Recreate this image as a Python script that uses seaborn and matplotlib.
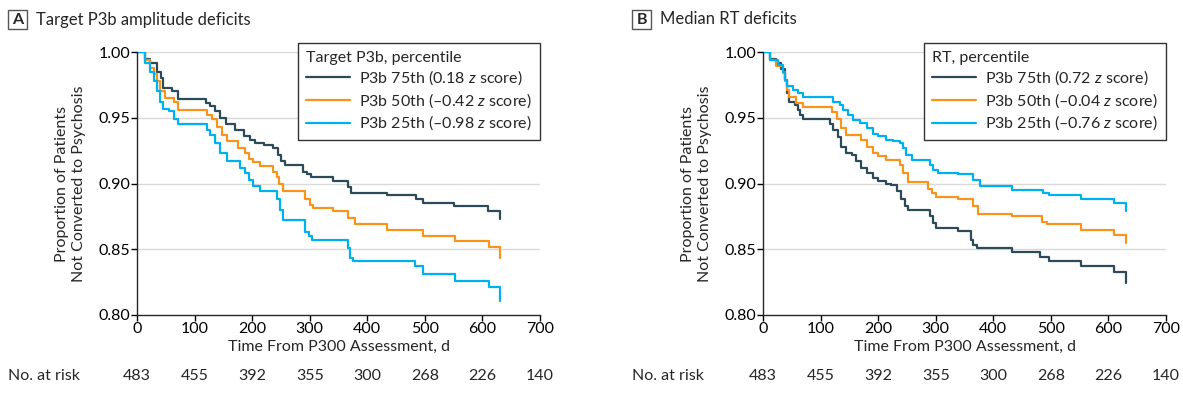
import pandas as pd
import seaborn as sns
import matplotlib.pyplot as plt
from matplotlib.patches import Rectangle
from matplotlib.transforms import blended_transform_factory

# ----------------------------- DATA --------------------------------------------------------------------

# Panel A: target P3b amplitude (step points: day, proportion not converted)
a75_t = [0, 14, 23, 35, 42, 46, 60, 72, 120, 127, 135, 145, 155, 170, 185, 197, 205, 220, 237, 245, 250, 257,
         289, 295, 302, 341, 367, 372, 434, 484, 496, 550, 610, 630]
a75_s = [1.000, 0.995, 0.992, 0.985, 0.980, 0.973, 0.970, 0.964, 0.961, 0.959, 0.955, 0.950, 0.945, 0.941, 0.936,
         0.933, 0.931, 0.929, 0.927, 0.922, 0.917, 0.914, 0.909, 0.907, 0.905, 0.902, 0.897, 0.893, 0.891, 0.888,
         0.885, 0.883, 0.879, 0.873]
a50_t = [0, 14, 23, 29, 35, 40, 49, 64, 72, 121, 130, 139, 147, 156, 176, 188, 194, 202, 214, 237, 243, 246, 254,
         292, 301, 305, 341, 367, 379, 434, 496, 552, 612, 630]
a50_s = [1.000, 0.994, 0.988, 0.983, 0.978, 0.970, 0.965, 0.962, 0.956, 0.952, 0.949, 0.943, 0.937, 0.932, 0.927,
         0.923, 0.919, 0.916, 0.913, 0.909, 0.905, 0.900, 0.894, 0.888, 0.884, 0.881, 0.879, 0.874, 0.869, 0.865,
         0.860, 0.856, 0.852, 0.843]
a25_t = [0, 14, 23, 29, 35, 40, 46, 55, 64, 72, 121, 127, 136, 145, 156, 179, 188, 194, 202, 214, 243, 249, 254,
         292, 298, 304, 367, 370, 376, 483, 496, 552, 612, 630]
a25_s = [1.000, 0.992, 0.985, 0.978, 0.970, 0.962, 0.957, 0.955, 0.949, 0.945, 0.941, 0.937, 0.931, 0.923, 0.917,
         0.912, 0.908, 0.903, 0.898, 0.894, 0.888, 0.880, 0.872, 0.863, 0.860, 0.857, 0.851, 0.843, 0.841, 0.837,
         0.831, 0.826, 0.821, 0.811]

# Panel B: median RT
b75_t = [0, 12, 23, 32, 38, 41, 46, 55, 61, 64, 70, 116, 122, 130, 136, 145, 154, 162, 171, 180, 191, 200, 214,
         223, 232, 240, 246, 252, 290, 296, 301, 339, 362, 365, 371, 432, 481, 496, 553, 610, 630]
b75_s = [1.000, 0.995, 0.992, 0.987, 0.979, 0.969, 0.962, 0.960, 0.956, 0.952, 0.949, 0.945, 0.941, 0.935, 0.928,
         0.923, 0.922, 0.917, 0.912, 0.908, 0.904, 0.902, 0.900, 0.899, 0.894, 0.888, 0.883, 0.880, 0.875, 0.870,
         0.866, 0.864, 0.857, 0.853, 0.851, 0.848, 0.844, 0.841, 0.837, 0.833, 0.824]
b50_t = [0, 12, 23, 35, 38, 41, 46, 58, 70, 119, 128, 136, 145, 171, 180, 191, 200, 214, 238, 243, 252, 287, 293,
         301, 339, 365, 374, 432, 484, 493, 553, 610, 630]
b50_s = [1.000, 0.994, 0.989, 0.984, 0.978, 0.971, 0.966, 0.961, 0.958, 0.954, 0.949, 0.942, 0.937, 0.933, 0.928,
         0.923, 0.921, 0.918, 0.914, 0.908, 0.901, 0.896, 0.893, 0.890, 0.888, 0.883, 0.877, 0.875, 0.871, 0.869,
         0.865, 0.861, 0.855]
b25_t = [0, 12, 26, 35, 38, 41, 52, 61, 70, 122, 133, 139, 148, 156, 168, 180, 191, 200, 214, 226, 238, 243, 249,
         258, 290, 296, 304, 339, 365, 377, 432, 487, 496, 553, 610, 630]
b25_s = [1.000, 0.994, 0.990, 0.985, 0.979, 0.974, 0.971, 0.969, 0.966, 0.962, 0.960, 0.956, 0.952, 0.948, 0.946,
         0.942, 0.938, 0.936, 0.933, 0.932, 0.931, 0.927, 0.922, 0.918, 0.914, 0.910, 0.908, 0.907, 0.903, 0.898,
         0.895, 0.893, 0.891, 0.888, 0.885, 0.879]

labels_a = ["P3b 75th (0.18 $z$ score)", "P3b 50th (–0.42 $z$ score)", "P3b 25th (–0.98 $z$ score)"]
labels_b = ["P3b 75th (0.72 $z$ score)", "P3b 50th (–0.04 $z$ score)", "P3b 25th (–0.76 $z$ score)"]

risk_days = [0, 100, 200, 300, 400, 500, 600, 700]
at_risk = [483, 455, 392, 355, 300, 268, 226, 140]

colors = ["#2c4a58", "#f7941d", "#00b0ef"]

# ----------------------------- STYLE -------------------------------------------------------------------

sns.set_style("ticks")
FONT = "Lato"
plt.rcParams["font.family"] = [FONT, "DejaVu Sans"]
plt.rcParams["mathtext.fontset"] = "custom"
plt.rcParams["mathtext.it"] = FONT + ":italic"
plt.rcParams["mathtext.rm"] = FONT
plt.rcParams["font.size"] = 11


def long_frame(curves, labels):
    frames = []
    for (t, s), lab in zip(curves, labels):
        frames.append(pd.DataFrame({"day": t, "surv": s, "group": lab}))
    return pd.concat(frames, ignore_index=True)


fig = plt.figure(figsize=(11.83, 3.95), dpi=100)
W, H = 1183, 395

panels = [
    dict(left=137, letter="A", title="Target P3b amplitude deficits", leg="Target P3b, percentile",
         curves=[(a75_t, a75_s), (a50_t, a50_s), (a25_t, a25_s)], labels=labels_a, box_x=8),
    dict(left=763, letter="B", title="Median RT deficits", leg="RT, percentile",
         curves=[(b75_t, b75_s), (b50_t, b50_s), (b25_t, b25_s)], labels=labels_b, box_x=632),
]

for p in panels:
    ax = fig.add_axes([p["left"] / W, 1 - 315 / H, 403 / W, 263 / H])
    df = long_frame(p["curves"], p["labels"])
    sns.lineplot(data=df, x="day", y="surv", hue="group", palette=colors, estimator=None, sort=False,
                 drawstyle="steps-post", linewidth=1.6, ax=ax, legend=False)

    ax.set_xlim(0, 700)
    ax.set_ylim(0.80, 1.00)
    ax.set_xticks(risk_days)
    ax.set_yticks([0.80, 0.85, 0.90, 0.95, 1.00])
    ax.set_yticklabels(["0.80", "0.85", "0.90", "0.95", "1.00"])
    for yv in [0.85, 0.90, 0.95, 1.00]:
        ax.axhline(yv, color="#d9d9d9", lw=1, zorder=0)
    sns.despine(ax=ax)
    ax.spines["left"].set_linewidth(1)
    ax.spines["bottom"].set_linewidth(1)
    ax.tick_params(length=4, width=1, labelsize=11.5, colors="black", pad=1)
    ax.set_xlabel("Time From P300 Assessment, d", fontsize=11.5, labelpad=3)
    ax.set_ylabel("Proportion of Patients\nNot Converted to Psychosis", fontsize=11.5, labelpad=9)

    handles = [plt.Line2D([], [], color=c, lw=1.6) for c in colors]
    leg = ax.legend(handles, p["labels"], title=p["leg"], loc="upper right", bbox_to_anchor=(1.0, 1.035),
                    borderaxespad=0, frameon=True, fancybox=False, framealpha=1, edgecolor="#333333",
                    handlelength=2.8, handletextpad=0.55, labelspacing=0.25, borderpad=0.5,
                    fontsize=11.5, title_fontsize=11.5, alignment="left")
    leg.get_frame().set_linewidth(1)

    # panel letter box and title
    bx = p["box_x"]
    fig.patches.append(Rectangle((bx / W, 1 - 29 / H), 19 / W, 19 / H, transform=fig.transFigure,
                                 fill=False, edgecolor="#555555", lw=1))
    fig.text((bx + 9.5) / W, 1 - 19.5 / H, p["letter"], ha="center", va="center", fontsize=11.5,
             fontweight="bold")
    fig.text((bx + 28) / W, 1 - 19.5 / H, p["title"], ha="left", va="center", fontsize=12)

    # number at risk row
    fig.text(bx / W, 1 - 376 / H, "No. at risk", ha="left", va="center", fontsize=11.5)
    trans = blended_transform_factory(ax.transData, fig.transFigure)
    for d, n in zip(risk_days, at_risk):
        ax.text(d, 1 - 376 / H, str(n), transform=trans, ha="center", va="center", fontsize=11.5, clip_on=False)

fig.savefig("out.png", dpi=100)
